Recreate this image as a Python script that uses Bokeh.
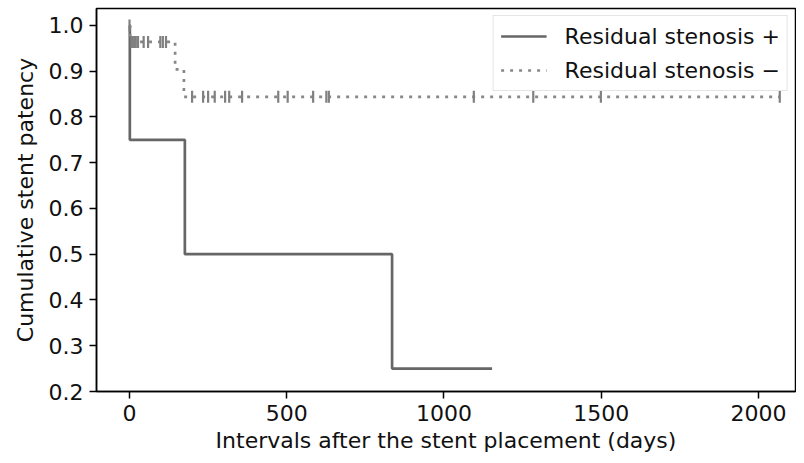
import numpy as np
from bokeh.plotting import figure
from bokeh.models import Range1d, FixedTicker, Legend, LegendItem
from bokeh.embed import file_html
from bokeh.resources import INLINE

# Residual stenosis + (Kaplan-Meier step data)
pos_time = [0, 1, 176, 835, 1153]
pos_surv = [1.0, 0.75, 0.5, 0.25, 0.25]

# Residual stenosis - (Kaplan-Meier step data)
neg_time = [0, 2, 145, 173, 2068]
neg_surv = [1.0, 0.964, 0.904, 0.844, 0.844]

# censored observations (Residual stenosis -)
cens_time = [0, 6, 10, 15, 20, 27, 45, 59, 98, 106, 116,
             199, 234, 250, 271, 304, 317, 358, 473, 503, 584, 626, 634,
             1095, 1284, 1499, 2068]
cens_surv = [1.0] + [0.964] * 10 + [0.844] * 16

x_ticks = [0, 500, 1000, 1500, 2000]
y_ticks = [0.2, 0.3, 0.4, 0.5, 0.6, 0.7, 0.8, 0.9, 1.0]

FONT = "DejaVu Sans"
FS = "22px"

p = figure(width=796, height=455, output_backend="svg", toolbar_location=None,
           x_range=Range1d(-105, 2118), y_range=Range1d(0.2, 1.037),
           min_border_left=96, min_border_right=1, min_border_top=8, min_border_bottom=63)

p.xgrid.visible = False
p.ygrid.visible = False
p.outline_line_color = "black"
p.outline_line_width = 1.5
p.outline_line_alpha = 1.0

for ax in (p.xaxis[0], p.yaxis[0]):
    ax.major_label_text_font = FONT
    ax.major_label_text_font_size = FS
    ax.major_label_text_color = "#111111"
    ax.axis_label_text_font = FONT
    ax.axis_label_text_font_size = FS
    ax.axis_label_text_font_style = "normal"
    ax.axis_label_text_color = "#111111"
    ax.axis_line_color = "black"
    ax.axis_line_width = 1.5
    ax.major_tick_line_color = "black"
    ax.major_tick_line_width = 1.5
    ax.major_tick_out = 7
    ax.major_tick_in = 0
    ax.minor_tick_line_color = None
    ax.major_label_standoff = 6

p.xaxis.ticker = FixedTicker(ticks=x_ticks)
p.yaxis.ticker = FixedTicker(ticks=y_ticks)
p.yaxis.major_label_overrides = {v: f"{v:.1f}" for v in y_ticks}
p.xaxis.axis_label = "Intervals after the stent placement (days)"
p.yaxis.axis_label = "Cumulative stent patency"
p.xaxis.axis_label_standoff = 4
p.yaxis.axis_label_standoff = 8

r_pos = p.step(pos_time, pos_surv, mode="after", line_color="#666666", line_width=2.7)
r_neg = p.step(neg_time, neg_surv, mode="after", line_color="#888888", line_width=2.7,
               line_dash="3 6")
p.scatter(cens_time, cens_surv, marker="dash", angle=np.pi / 2, size=12,
          line_color="#808080", line_width=2.2)

legend = Legend(items=[LegendItem(label="Residual stenosis +", renderers=[r_pos]),
                       LegendItem(label="Residual stenosis \u2212", renderers=[r_neg])],
                location="top_right")
legend.label_text_font = FONT
legend.label_text_font_size = FS
legend.label_text_color = "#111111"
legend.glyph_width = 46
legend.glyph_height = 26
legend.label_height = 26
legend.label_standoff = 18
legend.spacing = 8
legend.padding = 7
legend.margin = 7
legend.border_line_color = "#cccccc"
legend.border_line_width = 1
legend.background_fill_alpha = 0.85
p.add_layout(legend)

open("out.html", "w").write(file_html(p, INLINE))
